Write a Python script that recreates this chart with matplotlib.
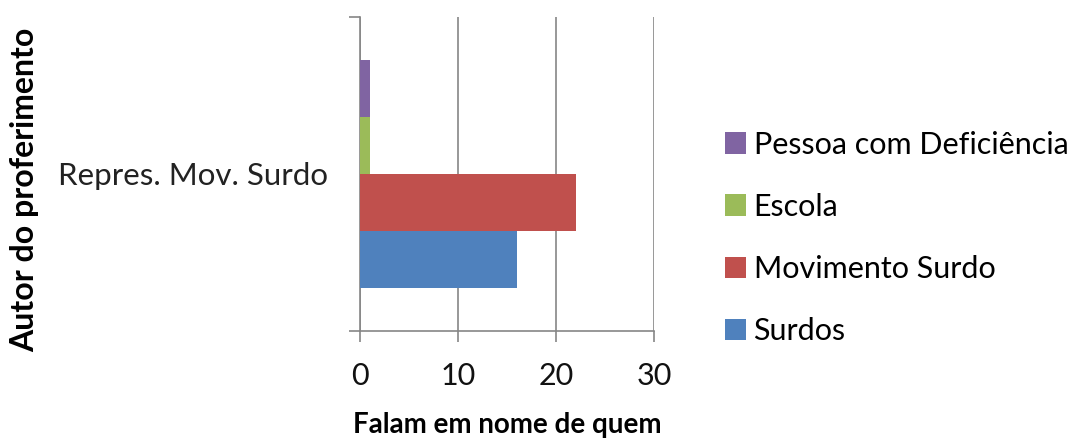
import numpy as np
import matplotlib
matplotlib.use("Agg")
import matplotlib.pyplot as plt

plt.rcParams["font.family"] = ["Lato", "DejaVu Sans"]

categoria = ["Repres. Mov. Surdo"]
series = ["Surdos", "Movimento Surdo", "Escola", "Pessoa com Deficiência"]
valores = [16, 22, 1, 1]
cores = ["#4F81BD", "#C0504D", "#9BBB59", "#8064A2"]

fig = plt.figure(figsize=(10.74, 4.43), dpi=100)
ax = fig.add_axes([360/1074, 1-331/443, (654-360)/1074, (331-17)/443])

h = 0.182
n = len(series)
for i in range(n):
    y = (i - (n-1)/2) * h
    ax.barh(y, valores[i], height=h, color=cores[i], label=series[i], zorder=3)

ax.set_xlim(0, 30)
ax.set_ylim(-0.5, 0.5)
ax.set_xticks([0, 10, 20, 30])
ax.set_yticks([-0.5, 0.5])
ax.set_yticklabels(["", ""])
ax.text(-0.11, 0.0, categoria[0], transform=ax.get_yaxis_transform(), ha="right", va="center_baseline",
        fontsize=22.5, color="#222222")
ax.grid(axis="x", color="#868686", linewidth=1.2, zorder=0)
for s in ["top", "right"]:
    ax.spines[s].set_visible(False)
for s in ["left", "bottom"]:
    ax.spines[s].set_color("#868686")
    ax.spines[s].set_linewidth(1.2)
ax.tick_params(axis="x", colors="#868686", labelcolor="#111111", labelsize=22, length=8, width=1.2, pad=14)
ax.tick_params(axis="y", colors="#868686", length=8, width=1.2)

ax.set_xlabel("Falam em nome de quem", fontsize=20, fontweight="bold", labelpad=16)
fig.text(25/1074, 1-190/443, "Autor do proferimento", rotation=90, ha="center", va="center", fontsize=23, fontweight="bold")

handles, labels = ax.get_legend_handles_labels()
leg = fig.legend(handles[::-1], labels[::-1], loc="center left", bbox_to_anchor=(697/1074, 1-238/443),
                 frameon=False, fontsize=22, handlelength=0.7, handleheight=0.7, handletextpad=0.25,
                 labelspacing=1.12)

fig.savefig("out.png", dpi=100)
